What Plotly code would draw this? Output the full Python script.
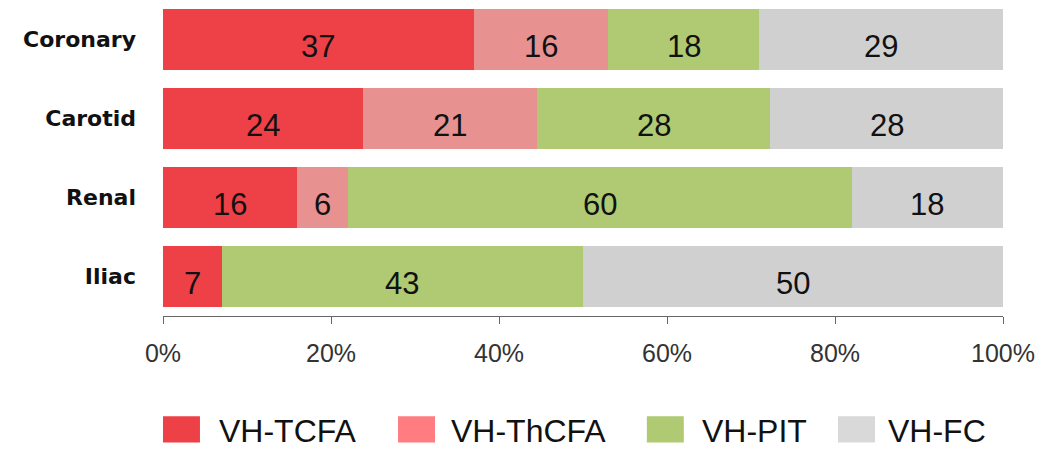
import plotly.graph_objects as go
import numpy as np

# Data
sites = ["Coronary", "Carotid", "Renal", "Iliac"]
series = ["VH-TCFA", "VH-ThCFA", "VH-PIT", "VH-FC"]
tcfa = [37, 24, 16, 7]
thcfa = [16, 21, 6, 0]
pit = [18, 28, 60, 43]
fc = [29, 28, 18, 50]
values = [tcfa, thcfa, pit, fc]
tick_vals = [0, 20, 40, 60, 80, 100]
tick_text = ["0%", "20%", "40%", "60%", "80%", "100%"]

bar_colors = ["#EE4047", "#E79191", "#AFCA72", "#D0D0D0"]
legend_colors = ["#EE4047", "#FF7C80", "#AFCA72", "#D9D9D9"]

fig = go.Figure()
for name, vals, col in zip(series, values, bar_colors):
    fig.add_trace(go.Bar(
        y=sites, x=vals, name=name, orientation="h",
        marker=dict(color=col, line=dict(width=0)),
        showlegend=False, hoverinfo="x+y+name",
    ))

# value labels, placed at segment midpoints (percent of row total)
arr = np.array(values, dtype=float)
totals = arr.sum(axis=0)
pct = arr / totals * 100
cum = np.cumsum(pct, axis=0)
for i in range(len(series)):
    for j, site in enumerate(sites):
        if arr[i, j] == 0:
            continue
        mid = cum[i, j] - pct[i, j] / 2
        fig.add_annotation(
            x=mid, y=site, text=str(int(arr[i, j])), showarrow=False,
            yshift=-7, font=dict(family="Arial, Liberation Sans", size=31, color="#111"),
        )

# custom legend below the chart (big swatches)
leg_box = [0.0, 0.2798, 0.576, 0.8036]
leg_txt = [0.0679, 0.344, 0.643, 0.864]
for name, col, bx, tx in zip(series, legend_colors, leg_box, leg_txt):
    fig.add_shape(type="rect", xref="paper", yref="paper",
                  x0=bx, x1=bx + 0.044, y0=-0.40, y1=-0.317,
                  fillcolor=col, line=dict(width=0))
    fig.add_annotation(xref="paper", yref="paper", x=tx, y=-0.364,
                       xanchor="left", yanchor="middle", text=name, showarrow=False,
                       xshift=-3,
                       font=dict(family="Arial, Liberation Sans", size=32, color="#111"))

fig.update_layout(
    barmode="stack", barnorm="percent", bargap=0.22,
    width=1050, height=454,
    margin=dict(l=163, r=47, t=0, b=138),
    plot_bgcolor="white", paper_bgcolor="white",
    font=dict(family="Arial, Liberation Sans", color="#222"),
    xaxis=dict(range=[0, 100], tickvals=tick_vals, ticktext=tick_text,
               showgrid=False, zeroline=False, showline=True, linecolor="#666", linewidth=1,
               ticks="outside", ticklen=7, tickcolor="#666",
               tickfont=dict(size=25, color="#333"), ticklabelstandoff=8),
    yaxis=dict(autorange="reversed", showgrid=False, zeroline=False, showline=False,
               ticks="", tickfont=dict(family="DejaVu Sans", size=22, color="#111", weight="bold"),
               ticklabelstandoff=26),
)

fig.write_html("out.html", config={"displayModeBar": False},
               post_script="document.body.style.margin='0';")
